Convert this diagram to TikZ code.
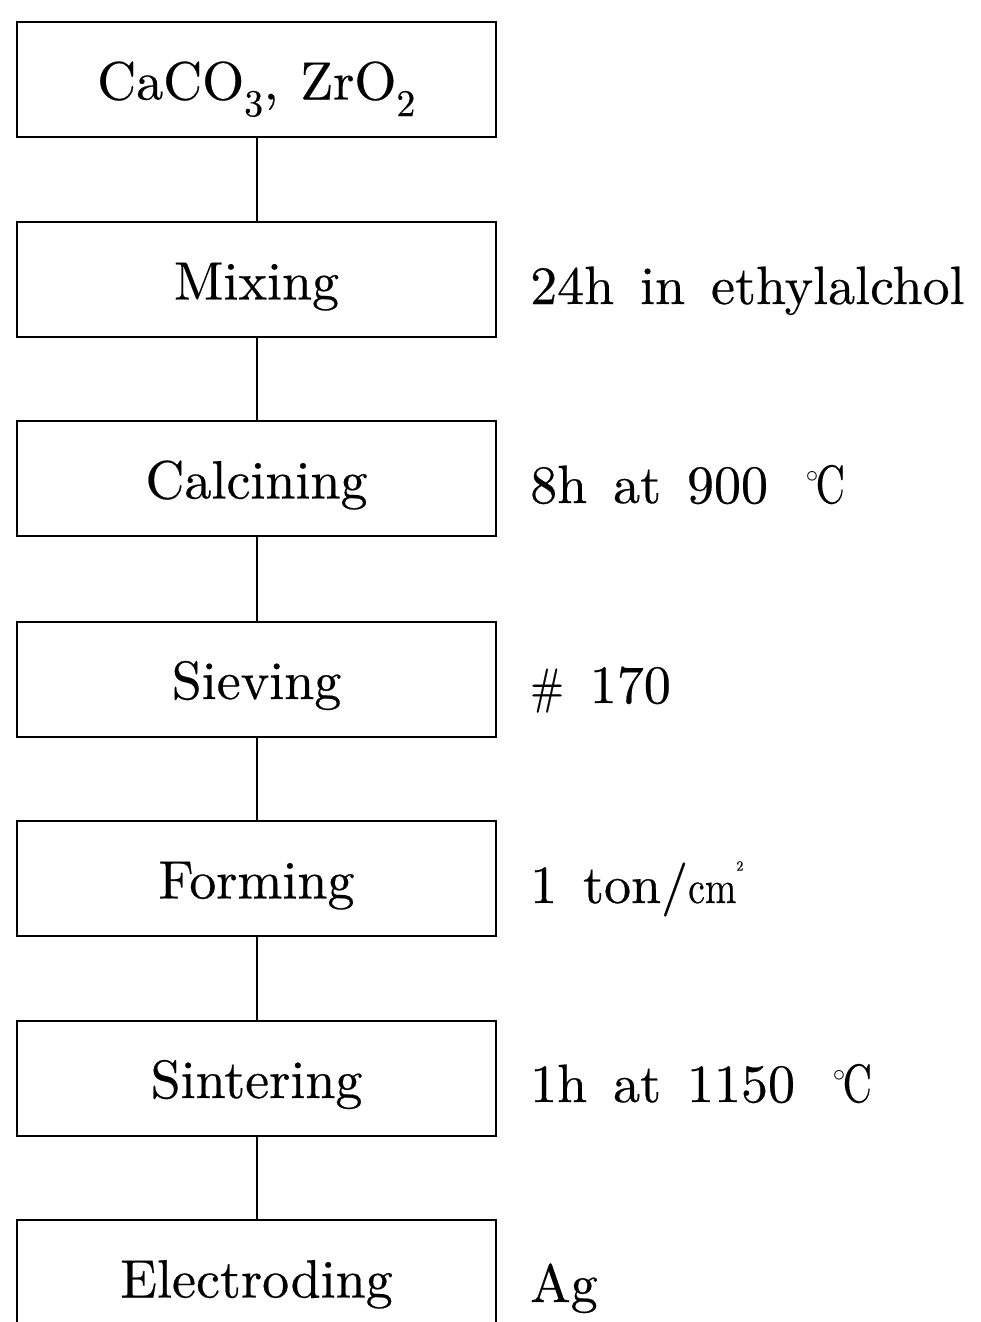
\documentclass[tikz,border=0pt]{standalone}
\usepackage{fontspec}
\setmainfont{lmroman10-regular.otf}[FakeBold=0.4]
\newcommand{\degC}{\raisebox{0.38em}{\fontsize{26}{30}\selectfont$\circ$}\kern-0.05em\scalebox{0.75}[1]{C}}
\newcommand{\sqcm}{\scalebox{0.7}[0.85]{cm}\raisebox{0.6em}{\fontsize{14}{16}\selectfont 2}}
\newcommand{\wgap}{\hspace{0.48em}}
\begin{document}
\begin{tikzpicture}[x=1pt,y=-1pt,
  box/.style={draw, line width=2pt, minimum width=479pt, minimum height=115pt, inner sep=0pt, text height=42pt, text depth=2pt, font=\fontsize{54}{60}\selectfont},
  note/.style={anchor=base west, inner sep=0pt, font=\fontsize{54}{60}\selectfont},
  link/.style={line width=2pt}]
\useasboundingbox (0,0) rectangle (980,1322);
\clip (0,0) rectangle (980,1322);
\node[box] (b1) at (256.5,79.5) {CaCO\textsubscript{3},\hspace{0.4em}ZrO\textsubscript{2}};
\node[box] (b2) at (256.5,279.5) {Mixing};
\node[box] (b3) at (256.5,478.5) {Calcining};
\node[box] (b4) at (256.5,679) {Sieving};
\node[box] (b5) at (256.5,878.5) {Forming};
\node[box] (b6) at (256.5,1078) {Sintering};
\node[box] (b7) at (256.5,1277.5) {Electroding};
\draw[link] (b1.south) -- (b2.north);
\draw[link] (b2.south) -- (b3.north);
\draw[link] (b3.south) -- (b4.north);
\draw[link] (b4.south) -- (b5.north);
\draw[link] (b5.south) -- (b6.north);
\draw[link] (b6.south) -- (b7.north);
\node[note] (n2) at (530,304) {24h\wgap in\wgap ethylalchol};
\node[note] (n3) at (530,503) {8h\wgap at\wgap 900\hspace{0.7em}\degC};
\node[note] (n4) at (530,703) {\scalebox{0.75}[0.92]{\#}\wgap 170};
\node[note] (n5) at (530,903) {1\wgap ton/\sqcm};
\node[note] (n6) at (530,1102) {1h\wgap at\wgap 1150\hspace{0.7em}\degC};
\node[note] (n7) at (530,1302) {Ag};
\end{tikzpicture}
\end{document}
